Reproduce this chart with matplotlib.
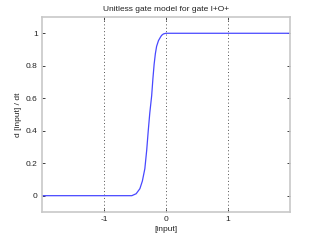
import matplotlib
matplotlib.use('Agg')
import matplotlib.pyplot as plt

# curve
x_vals = [-2.0, -0.8, -0.55, -0.48, -0.42, -0.38, -0.34, -0.31, -0.285, -0.26, -0.23, -0.21, -0.19, -0.17, -0.15, -0.12, -0.09, -0.07, -0.04, 0.0, 0.5, 1.0, 2.0]
y_vals = [0.0, 0.0, 0.0, 0.012, 0.043, 0.09, 0.166, 0.28, 0.40, 0.51, 0.615, 0.72, 0.81, 0.875, 0.92, 0.955, 0.975, 0.987, 0.996, 1.0, 1.0, 1.0, 1.0]

x_ticks = [-1, 0, 1]
y_ticks = [0, 0.2, 0.4, 0.6, 0.8, 1]
y_tick_labels = ['0', '0.2', '0.4', '0.6', '0.8', '1']

plt.rcParams['font.family'] = ['Liberation Sans', 'DejaVu Sans']
plt.rcParams['axes.unicode_minus'] = False

fig = plt.figure(figsize=(3.2, 2.4), dpi=100)
ax = fig.add_axes([0.131, 0.117, 0.775, 0.812])

ax.plot(x_vals, y_vals, color='#4848ff', lw=0.9)

ax.set_xlim(-2, 2)
ax.set_ylim(-0.1, 1.1)
ax.set_xticks(x_ticks)
ax.set_yticks(y_ticks)
ax.set_yticklabels(y_tick_labels)
ax.xaxis.grid(True, linestyle=(0, (1, 2.5)), color='#505050', lw=0.7)

ax.tick_params(direction='in', length=2.5, width=0.7, color='#404040',
               labelsize=6, labelcolor='#222222', top=True, right=True, pad=3)
for s in ax.spines.values():
    s.set_color('#c8c8c8')
    s.set_linewidth(1.2)

ax.set_title('Unitless gate model for gate I+O+', fontsize=6, color='#222222', pad=4)
ax.set_xlabel('[input]', fontsize=6, color='#222222', labelpad=2)
ax.set_ylabel('d [input] / dt', fontsize=6, color='#222222', labelpad=3)

fig.savefig('out.png', dpi=100)
